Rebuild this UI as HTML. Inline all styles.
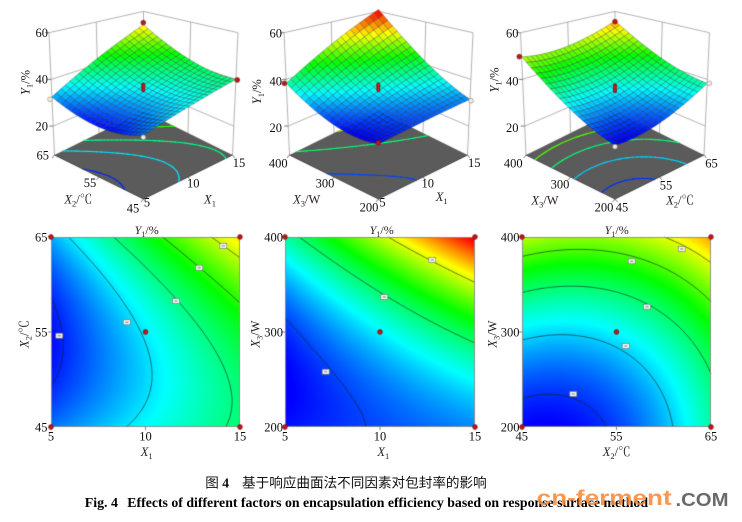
<!DOCTYPE html>
<html>
<head>
<meta charset="utf-8">
<style>
  html,body{margin:0;padding:0;background:#fff;}
  #wrap{position:relative;width:742px;height:522px;overflow:hidden;background:#fff;}
  canvas,svg{position:absolute;left:0;top:0;}
  svg text{font-family:"Liberation Serif","Noto Serif CJK SC",serif;}
</style>
</head>
<body>
<div id="wrap">
<canvas id="c" width="742" height="522"></canvas>
<svg width="742" height="522" viewBox="0 0 742 522" xmlns="http://www.w3.org/2000/svg">
  <!-- ========== 3D plot 1 ========== -->
  <g font-size="12.5" fill="#111">
    <text x="48" y="37" text-anchor="end">60</text>
    <text x="48" y="83.6" text-anchor="end">40</text>
    <text x="48" y="130.3" text-anchor="end">20</text>
    <text x="42.7" y="159.5" text-anchor="middle">65</text>
    <text x="90" y="187" text-anchor="middle">55</text>
    <text x="133" y="212.5" text-anchor="middle">45</text>
    <text x="147" y="206.6" text-anchor="middle">5</text>
    <text x="193.3" y="187.6" text-anchor="middle">10</text>
    <text x="239" y="167" text-anchor="middle">15</text>
  </g>
  <g font-size="12.5" fill="#2a2222">
    <text x="78.3" y="203.6" text-anchor="middle"><tspan font-style="italic">X</tspan><tspan font-size="8.5" dy="3">2</tspan><tspan dy="-3">/℃</tspan></text>
    <text x="210" y="203.6" text-anchor="middle"><tspan font-style="italic">X</tspan><tspan font-size="8.5" dy="3">1</tspan></text>
    <text transform="translate(29.5,82.5) rotate(-90)" text-anchor="middle"><tspan font-style="italic">Y</tspan><tspan font-size="8.5" dy="3">1</tspan><tspan dy="-3">/%</tspan></text>
  </g>

  <!-- ========== 3D plot 2 ========== -->
  <g font-size="12.5" fill="#111">
    <text x="282" y="37.6" text-anchor="end">60</text>
    <text x="282" y="85.3" text-anchor="end">40</text>
    <text x="282" y="132" text-anchor="end">20</text>
    <text x="278.3" y="167.6" text-anchor="middle">400</text>
    <text x="325" y="187.6" text-anchor="middle">300</text>
    <text x="369" y="211.6" text-anchor="middle">200</text>
    <text x="382.5" y="206.6" text-anchor="middle">5</text>
    <text x="427.7" y="187.6" text-anchor="middle">10</text>
    <text x="474.3" y="167" text-anchor="middle">15</text>
  </g>
  <g font-size="12.5" fill="#2a2222">
    <text x="306.7" y="203.6" text-anchor="middle"><tspan font-style="italic">X</tspan><tspan font-size="8.5" dy="3">3</tspan><tspan dy="-3">/W</tspan></text>
    <text x="441.7" y="201" text-anchor="middle"><tspan font-style="italic">X</tspan><tspan font-size="8.5" dy="3">1</tspan></text>
    <text transform="translate(261,91.7) rotate(-90)" text-anchor="middle"><tspan font-style="italic">Y</tspan><tspan font-size="8.5" dy="3">1</tspan><tspan dy="-3">/%</tspan></text>
  </g>

  <!-- ========== 3D plot 3 ========== -->
  <g font-size="12.5" fill="#111">
    <text x="518.5" y="37.6" text-anchor="end">60</text>
    <text x="518.5" y="85.3" text-anchor="end">40</text>
    <text x="518.5" y="132" text-anchor="end">20</text>
    <text x="513.3" y="167.6" text-anchor="middle">400</text>
    <text x="560" y="188.6" text-anchor="middle">300</text>
    <text x="604" y="211.6" text-anchor="middle">200</text>
    <text x="622" y="211.6" text-anchor="middle">45</text>
    <text x="666" y="189.3" text-anchor="middle">55</text>
    <text x="711.5" y="167.6" text-anchor="middle">65</text>
  </g>
  <g font-size="12.5" fill="#2a2222">
    <text x="545" y="204.3" text-anchor="middle"><tspan font-style="italic">X</tspan><tspan font-size="8.5" dy="3">3</tspan><tspan dy="-3">/W</tspan></text>
    <text x="680" y="204.3" text-anchor="middle"><tspan font-style="italic">X</tspan><tspan font-size="8.5" dy="3">2</tspan><tspan dy="-3">/℃</tspan></text>
    <text transform="translate(498.5,80) rotate(-90)" text-anchor="middle"><tspan font-style="italic">Y</tspan><tspan font-size="8.5" dy="3">1</tspan><tspan dy="-3">/%</tspan></text>
  </g>

  <!-- ========== Contour 1 ========== -->
  <g font-size="12.5" fill="#111">
    <text x="47.5" y="241.3" text-anchor="end">65</text>
    <text x="47.5" y="336.3" text-anchor="end">55</text>
    <text x="47.5" y="431.3" text-anchor="end">45</text>
    <text x="51" y="440.5" text-anchor="middle">5</text>
    <text x="145.5" y="440.5" text-anchor="middle">10</text>
    <text x="240" y="440.5" text-anchor="middle">15</text>
  </g>
  <g font-size="12" fill="#2a2222">
    <text x="146.7" y="234" text-anchor="middle"><tspan font-style="italic">Y</tspan><tspan font-size="8" dy="3">1</tspan><tspan dy="-3">/%</tspan></text>
    <text x="146.7" y="456" text-anchor="middle" font-size="12.5"><tspan font-style="italic">X</tspan><tspan font-size="8.5" dy="3">1</tspan></text>
    <text transform="translate(28.5,334) rotate(-90)" text-anchor="middle" font-size="12.5"><tspan font-style="italic">X</tspan><tspan font-size="8.5" dy="3">2</tspan><tspan dy="-3">/℃</tspan></text>
  </g>

  <!-- ========== Contour 2 ========== -->
  <g font-size="12.5" fill="#111">
    <text x="283" y="241.3" text-anchor="end">400</text>
    <text x="283" y="336.3" text-anchor="end">300</text>
    <text x="283" y="431.3" text-anchor="end">200</text>
    <text x="285" y="440.5" text-anchor="middle">5</text>
    <text x="380" y="440.5" text-anchor="middle">10</text>
    <text x="475" y="440.5" text-anchor="middle">15</text>
  </g>
  <g font-size="12" fill="#2a2222">
    <text x="381.7" y="234" text-anchor="middle"><tspan font-style="italic">Y</tspan><tspan font-size="8" dy="3">1</tspan><tspan dy="-3">/%</tspan></text>
    <text x="383.3" y="456" text-anchor="middle" font-size="12.5"><tspan font-style="italic">X</tspan><tspan font-size="8.5" dy="3">1</tspan></text>
    <text transform="translate(259.5,334) rotate(-90)" text-anchor="middle" font-size="12.5"><tspan font-style="italic">X</tspan><tspan font-size="8.5" dy="3">3</tspan><tspan dy="-3">/W</tspan></text>
  </g>

  <!-- ========== Contour 3 ========== -->
  <g font-size="12.5" fill="#111">
    <text x="519.5" y="241.3" text-anchor="end">400</text>
    <text x="519.5" y="336.3" text-anchor="end">300</text>
    <text x="519.5" y="431.3" text-anchor="end">200</text>
    <text x="521.7" y="440.5" text-anchor="middle">45</text>
    <text x="616.3" y="440.5" text-anchor="middle">55</text>
    <text x="711" y="440.5" text-anchor="middle">65</text>
  </g>
  <g font-size="12" fill="#2a2222">
    <text x="616.7" y="234" text-anchor="middle"><tspan font-style="italic">Y</tspan><tspan font-size="8" dy="3">1</tspan><tspan dy="-3">/%</tspan></text>
    <text x="616.7" y="456" text-anchor="middle" font-size="12.5"><tspan font-style="italic">X</tspan><tspan font-size="8.5" dy="3">2</tspan><tspan dy="-3">/℃</tspan></text>
    <text transform="translate(496.5,334) rotate(-90)" text-anchor="middle" font-size="12.5"><tspan font-style="italic">X</tspan><tspan font-size="8.5" dy="3">3</tspan><tspan dy="-3">/W</tspan></text>
  </g>

  <!-- ========== Captions ========== -->
  <text x="205.3" y="487.5" font-size="13.6" fill="#111" style="font-family:'Liberation Serif','Noto Sans CJK SC',sans-serif">图 <tspan font-weight="bold">4</tspan></text>
  <text x="242" y="487.5" font-size="13.6" fill="#111" textLength="244.7" lengthAdjust="spacingAndGlyphs" style="font-family:'Liberation Serif','Noto Sans CJK SC',sans-serif">基于响应曲面法不同因素对包封率的影响</text>
  <text x="84.7" y="507" font-size="14" font-weight="bold" fill="#000" textLength="33.3" lengthAdjust="spacingAndGlyphs">Fig. 4</text>
  <text x="127.3" y="507" font-size="14" font-weight="bold" fill="#000" textLength="520.7" lengthAdjust="spacingAndGlyphs">Effects of different factors on encapsulation efficiency based on response surface method</text>

  <!-- watermark -->
  <text x="536.7" y="505" font-size="21" font-weight="bold" fill="#fb8a38" fill-opacity="0.88" textLength="135" lengthAdjust="spacingAndGlyphs" style="font-family:'Liberation Sans','DejaVu Sans',sans-serif">cn-ferment</text>
  <text x="675.5" y="506" font-size="18.5" font-weight="bold" fill="#6a6a6a" textLength="53" lengthAdjust="spacingAndGlyphs" style="font-family:'Liberation Sans','DejaVu Sans',sans-serif">.COM</text>
</svg>
</div>
<script>
(function(){
  var ctx=document.getElementById('c').getContext('2d');
  function cmap(z){
    var t=(z-27)/(60-27); if(t<0)t=0; if(t>1)t=1;
    var r,g,b;
    if(t<0.25){r=0;g=t/0.25*255;b=255;}
    else if(t<0.5){r=0;g=255;b=(0.5-t)/0.25*255;}
    else if(t<0.75){r=(t-0.5)/0.25*255;g=255;b=0;}
    else {r=255;g=(1-t)/0.25*255;b=0;}
    return [Math.round(r),Math.round(g),Math.round(b)];
  }
  function rgb(c){return 'rgb('+c[0]+','+c[1]+','+c[2]+')';}
  var F=[
    function(u,v){return 34.77+7.45*u+3.7*v+2.8*u*v+4.28*v*v;},
    function(u,v){return 34.97+6.675*u+10.075*v+4.675*u*v+4.6*v*v;},
    function(u,v){return 35.2+4.15*u+9.85*v-1.5*u*v+3.6*u*u+3.7*v*v;}
  ];
  var LV=[[28.2,34.4,39.3,44.6,49.9],[29.2,40,50.6],[28.5,33.7,40,46,51]];

  function segs(f,N,levels){
    var V=[],out=[],i,j,k;
    for(i=0;i<=N;i++){V.push([]);for(j=0;j<=N;j++)V[i].push(f(-1+2*i/N,-1+2*j/N));}
    levels.forEach(function(L){
      for(i=0;i<N;i++)for(j=0;j<N;j++){
        var c=[[i,j],[i+1,j],[i+1,j+1],[i,j+1]],pts=[];
        for(k=0;k<4;k++){
          var a=c[k],b=c[(k+1)%4];
          var va=V[a[0]][a[1]]-L,vb=V[b[0]][b[1]]-L;
          if((va<0)!==(vb<0)){
            var s=va/(va-vb);
            pts.push([(a[0]+s*(b[0]-a[0]))/N,(a[1]+s*(b[1]-a[1]))/N]);
          }
        }
        if(pts.length>=2)out.push([L,pts[0],pts[1]]);
        if(pts.length===4)out.push([L,pts[2],pts[3]]);
      }
    });
    return out;
  }
  function poly(pts,fill,stroke,lw){
    ctx.beginPath();ctx.moveTo(pts[0][0],pts[0][1]);
    for(var i=1;i<pts.length;i++)ctx.lineTo(pts[i][0],pts[i][1]);
    ctx.closePath();
    if(fill){ctx.fillStyle=fill;ctx.fill();}
    if(stroke){ctx.strokeStyle=stroke;ctx.lineWidth=lw;ctx.stroke();}
  }
  function line(pts,stroke,lw){
    ctx.beginPath();ctx.moveTo(pts[0][0],pts[0][1]);
    for(var i=1;i<pts.length;i++)ctx.lineTo(pts[i][0],pts[i][1]);
    ctx.strokeStyle=stroke;ctx.lineWidth=lw;ctx.stroke();
  }
  function dot(x,y,white){
    ctx.beginPath();ctx.arc(x,y,2.4,0,Math.PI*2);
    ctx.fillStyle=white?'#f3eee4':'#c3161a';ctx.fill();
    ctx.strokeStyle=white?'#8a8070':'#6a0c0c';ctx.lineWidth=0.6;ctx.stroke();
  }
  function pill(x,y){
    ctx.beginPath();
    ctx.moveTo(x-1.6,y-3);ctx.lineTo(x-1.6,y+3);
    ctx.arc(x,y+3,1.6,Math.PI,0,true);
    ctx.lineTo(x+1.6,y-3);
    ctx.arc(x,y-3,1.6,0,Math.PI,true);
    ctx.closePath();
    ctx.fillStyle='#c3161a';ctx.fill();ctx.strokeStyle='#6a0c0c';ctx.lineWidth=0.6;ctx.stroke();
  }

  /* ---------------- 3D plots ---------------- */
  var ZF=7.6;
  function P(cx,p,q,z){
    var t=(z-ZF)/(60-ZF);
    var cy=155-122.3*t,hh=44-22.7*t,hw=89+5.5*t;
    return [cx+hw*(p-q),cy+hh*(1-p-q)];
  }
  var CX=[143.5,378.5,615];
  for(var k=0;k<3;k++){
    var cx=CX[k],f=F[k];
    // walls grid
    [20,40,60].forEach(function(z){
      line([P(cx,0,1,z),P(cx,1,1,z),P(cx,1,0,z)],'#a0a0a0',0.8);
    });
    [[0,1],[0.5,1],[1,1],[1,0.5],[1,0]].forEach(function(pq){
      line([P(cx,pq[0],pq[1],ZF),P(cx,pq[0],pq[1],60)],'#a0a0a0',0.8);
    });
    // z axis ticks
    [20,40,60].forEach(function(z){
      var a=P(cx,0,1,z);
      line([[a[0]-4,a[1]],[a[0],a[1]]],'#555',0.8);
    });
    // floor
    var fl=[P(cx,0,0,ZF),P(cx,1,0,ZF),P(cx,1,1,ZF),P(cx,0,1,ZF)];
    poly(fl,'#5b5b5b',null,0);
    line([fl[3],fl[0],fl[1]],'#3a3a3a',0.9);
    // floor ticks
    [0,0.5,1].forEach(function(s){
      var a=P(cx,s,0,ZF); line([a,[a[0]+2.5,a[1]+3]],'#444',0.7);
      var b=P(cx,0,s,ZF); line([b,[b[0]-2.5,b[1]+3]],'#444',0.7);
    });
    // floor contours
    var sg=segs(f,40,LV[k]);
    ctx.lineCap='round';
    sg.forEach(function(s){
      var a=P(cx,s[1][0],s[1][1],ZF),b=P(cx,s[2][0],s[2][1],ZF);
      line([a,b],rgb(cmap(s[0])),1.1);
    });
    ctx.lineCap='butt';
    // surface
    var N=20,Z=[],i,j;
    for(i=0;i<=N;i++){Z.push([]);for(j=0;j<=N;j++)Z[i].push(f(-1+2*i/N,-1+2*j/N));}
    var quads=[];
    for(i=0;i<N;i++)for(j=0;j<N;j++)quads.push([i,j,i+j]);
    quads.sort(function(a,b){return b[2]-a[2];});
    quads.forEach(function(qd){
      var i=qd[0],j=qd[1];
      var pts=[[i,j],[i+1,j],[i+1,j+1],[i,j+1]].map(function(ab){return P(cx,ab[0]/N,ab[1]/N,Z[ab[0]][ab[1]]);});
      var zm=(Z[i][j]+Z[i+1][j]+Z[i+1][j+1]+Z[i][j+1])/4;
      poly(pts,rgb(cmap(zm)),'rgba(25,25,25,0.55)',0.5);
    });
  }
  // 3D design points
  dot(143.3,22.7,false); dot(50,99.3,true); dot(237.3,80,false); pill(143.3,87.3); dot(143.3,137.3,true);
  dot(284.3,83.3,false); pill(378.3,87.3); dot(471,100.7,true); dot(378.3,142.7,false);
  dot(519.3,56.7,false); dot(615,21.7,false); pill(615,88.3); dot(709.3,83.3,true); dot(615,146.7,true);

  /* ---------------- Contour plots ---------------- */
  var R=[[51,237,240,427],[285,237,475,427],[522,237,711,427]];
  var LAB=[
    [[59.3,335.7],[126.7,322.3],[176,301],[199.3,267.7],[223.3,246]],
    [[325.7,371.7],[384.3,297],[432.3,260]],
    [[573.3,394],[625.7,346],[647,306.7],[631.7,261.3],[681.7,249]]
  ];
  for(var k2=0;k2<3;k2++){
    var r=R[k2],x0=r[0],y0=r[1],x1=r[2],y1=r[3],W=x1-x0,H=y1-y0,f2=F[k2];
    var img=ctx.createImageData(W,H),d=img.data;
    for(var py=0;py<H;py++){
      for(var px=0;px<W;px++){
        var p=(px+0.5)/W,q=1-(py+0.5)/H;
        var c=cmap(f2(2*p-1,2*q-1));
        var o=(py*W+px)*4;
        d[o]=c[0];d[o+1]=c[1];d[o+2]=c[2];d[o+3]=255;
      }
    }
    ctx.putImageData(img,x0,y0);
    var sg2=segs(f2,90,LV[k2]);
    sg2.forEach(function(s){
      line([[x0+s[1][0]*W,y1-s[1][1]*H],[x0+s[2][0]*W,y1-s[2][1]*H]],'rgba(20,30,20,0.8)',0.75);
    });
    ctx.strokeStyle='#8c8c8c';ctx.lineWidth=0.9;ctx.strokeRect(x0+0.5,y0+0.5,W-1,H-1);
    // ticks
    [0,0.5,1].forEach(function(s){
      var x=x0+s*W; line([[x,y1],[x,y1+3]],'#666',0.8);
      var y=y1-s*H; line([[x0,y],[x0-3,y]],'#666',0.8);
    });
    LAB[k2].forEach(function(pt){
      ctx.fillStyle='#f6f6f6';ctx.fillRect(pt[0]-3.5,pt[1]-2.5,7,5);
      ctx.strokeStyle='#707070';ctx.lineWidth=0.6;ctx.strokeRect(pt[0]-3.5,pt[1]-2.5,7,5);
      ctx.fillStyle='#9a9a9a';ctx.fillRect(pt[0]-1.5,pt[1]-0.7,3,1.4);
    });
    dot(x0,y0,false);dot(x1,y0,false);dot(x0,y1,false);dot(x1,y1,false);
    dot((x0+x1)/2,(y0+y1)/2,false);
  }
})();
</script>
</body>
</html>
